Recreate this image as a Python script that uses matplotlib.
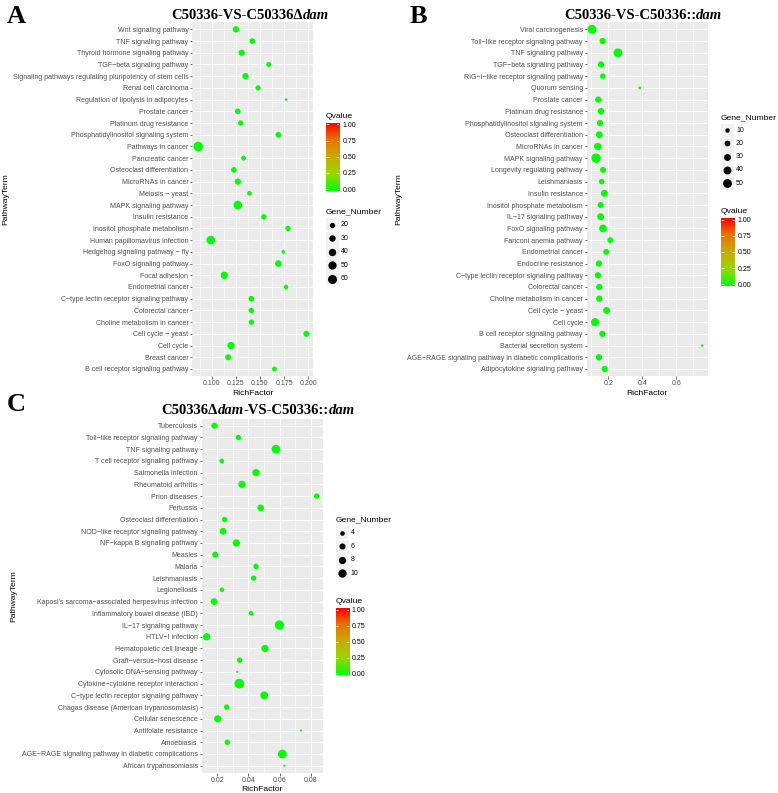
import numpy as np
import matplotlib
matplotlib.use("Agg")
import matplotlib.pyplot as plt
import matplotlib.patches as patches
from matplotlib.colors import LinearSegmentedColormap

W, H = 778, 793

# ---- panel A : C50336-VS-C50336Δdam (top row first) ----
terms_a = ["Wnt signaling pathway", "TNF signaling pathway", "Thyroid hormone signaling pathway",
           "TGF\u2212beta signaling pathway", "Signaling pathways regulating pluripotency of stem cells",
           "Renal cell carcinoma", "Regulation of lipolysis in adipocytes", "Prostate cancer",
           "Platinum drug resistance", "Phosphatidylinositol signaling system", "Pathways in cancer",
           "Pancreatic cancer", "Osteoclast differentiation", "MicroRNAs in cancer", "Meiosis \u2212 yeast",
           "MAPK signaling pathway", "Insulin resistance", "Inositol phosphate metabolism",
           "Human papillomavirus infection", "Hedgehog signaling pathway \u2212 fly", "FoxO signaling pathway",
           "Focal adhesion", "Endometrial cancer", "C\u2212type lectin receptor signaling pathway",
           "Colorectal cancer", "Choline metabolism in cancer", "Cell cycle \u2212 yeast", "Cell cycle",
           "Breast cancer", "B cell receptor signaling pathway"]
rich_a = [0.125, 0.142, 0.131, 0.159, 0.135, 0.148, 0.177, 0.127, 0.130, 0.169, 0.086, 0.133, 0.123,
          0.127, 0.139, 0.127, 0.154, 0.179, 0.099, 0.174, 0.169, 0.113, 0.177, 0.141, 0.141, 0.141,
          0.198, 0.120, 0.117, 0.165]
genes_a = [29, 23, 29, 17, 29, 20, 4, 23, 20, 23, 68, 17, 23, 29, 15, 55, 20, 20, 55, 8, 32, 39, 15,
           23, 20, 20, 26, 39, 26, 17]
qval_a = [0.00, 0.00, 0.00, 0.00, 0.00, 0.00, 0.00, 0.00, 0.00, 0.00, 0.00, 0.00, 0.00, 0.00, 0.00,
          0.00, 0.00, 0.00, 0.00, 0.00, 0.00, 0.00, 0.00, 0.00, 0.00, 0.00, 0.00, 0.00, 0.00, 0.00]
size_breaks_a = [20, 30, 40, 50, 60]
xticks_a = [0.100, 0.125, 0.150, 0.175, 0.200]

# ---- panel B : C50336-VS-C50336::dam ----
terms_b = ["Viral carcinogenesis", "Toll\u2212like receptor signaling pathway", "TNF signaling pathway",
           "TGF\u2212beta signaling pathway", "RIG\u2212I\u2212like receptor signaling pathway", "Quorum sensing",
           "Prostate cancer", "Platinum drug resistance", "Phosphatidylinositol signaling system",
           "Osteoclast differentiation", "MicroRNAs in cancer", "MAPK signaling pathway",
           "Longevity regulating pathway", "Leishmaniasis", "Insulin resistance",
           "Inositol phosphate metabolism", "IL\u221217 signaling pathway", "FoxO signaling pathway",
           "Fanconi anemia pathway", "Endometrial cancer", "Endocrine resistance",
           "C\u2212type lectin receptor signaling pathway", "Colorectal cancer",
           "Choline metabolism in cancer", "Cell cycle \u2212 yeast", "Cell cycle",
           "B cell receptor signaling pathway", "Bacterial secretion system",
           "AGE\u2212RAGE signaling pathway in diabetic complications", "Adipocytokine signaling pathway"]
rich_b = [0.104, 0.167, 0.257, 0.157, 0.167, 0.385, 0.141, 0.157, 0.151, 0.147, 0.138, 0.128, 0.169,
          0.161, 0.177, 0.155, 0.155, 0.169, 0.212, 0.188, 0.145, 0.139, 0.147, 0.147, 0.190, 0.122,
          0.165, 0.753, 0.145, 0.179]
genes_b = [52, 24, 50, 24, 18, 2, 24, 27, 24, 30, 34, 58, 21, 18, 30, 21, 30, 38, 21, 21, 24, 24, 24,
           24, 30, 42, 24, 1, 24, 24]
qval_b = [0.00, 0.00, 0.00, 0.00, 0.00, 0.00, 0.00, 0.00, 0.00, 0.00, 0.00, 0.00, 0.00, 0.00, 0.00,
          0.00, 0.00, 0.00, 0.00, 0.00, 0.00, 0.00, 0.00, 0.00, 0.00, 0.00, 0.00, 0.00, 0.00, 0.00]
size_breaks_b = [10, 20, 30, 40, 50]
xticks_b = [0.2, 0.4, 0.6]

# ---- panel C : C50336Δdam-VS-C50336::dam ----
terms_c = ["Tuberculosis", "Toll\u2212like receptor signaling pathway", "TNF signaling pathway",
           "T cell receptor signaling pathway", "Salmonella infection", "Rheumatoid arthritis",
           "Prion diseases", "Pertussis", "Osteoclast differentiation",
           "NOD\u2212like receptor signaling pathway", "NF\u2212kappa B signaling pathway", "Measles",
           "Malaria", "Leishmaniasis", "Legionellosis",
           "Kaposi's sarcoma\u2212associated herpesvirus infection", "Inflammatory bowel disease (IBD)",
           "IL\u221217 signaling pathway", "HTLV\u2212I infection", "Hematopoietic cell lineage",
           "Graft\u2212versus\u2212host disease", "Cytosolic DNA\u2212sensing pathway",
           "Cytokine\u2212cytokine receptor interaction", "C\u2212type lectin receptor signaling pathway",
           "Chagas disease (American trypanosomiasis)", "Cellular senescence", "Antifolate resistance",
           "Amoebiasis", "AGE\u2212RAGE signaling pathway in diabetic complications",
           "African trypanosomiasis"]
rich_c = [0.0181, 0.0335, 0.0576, 0.0228, 0.0448, 0.0358, 0.0837, 0.0478, 0.0247, 0.0237, 0.0322,
          0.0187, 0.0448, 0.0433, 0.0230, 0.0179, 0.0416, 0.0598, 0.0132, 0.0506, 0.0343, 0.0328,
          0.0341, 0.0501, 0.0260, 0.0203, 0.0737, 0.0264, 0.0617, 0.0630]
genes_c = [6, 5, 11, 4, 8, 8, 5, 7, 5, 7, 8, 6, 5, 5, 4, 7, 4, 12, 8, 8, 5, 2, 13, 9, 5, 8, 2, 5, 11, 2]
qval_c = [0.00, 0.00, 0.00, 0.00, 0.00, 0.00, 0.00, 0.00, 0.00, 0.00, 0.00, 0.00, 0.00, 0.00, 0.00,
          0.00, 0.00, 0.00, 0.00, 0.00, 0.00, 0.00, 0.00, 0.00, 0.00, 0.00, 0.00, 0.00, 0.00, 0.00]
size_breaks_c = [4, 6, 8, 10]
xticks_c = [0.02, 0.04, 0.06, 0.08]

q_breaks = [0.00, 0.25, 0.50, 0.75, 1.00]

SANS = "Liberation Sans"
SERIF = "Liberation Serif"
plt.rcParams["font.family"] = [SANS, "DejaVu Sans"]

# ggplot green -> red gradient (Lab interpolation, approximated)
cmap = LinearSegmentedColormap.from_list(
    "qv", [(0.0, "#00FF00"), (0.25, "#98D700"), (0.5, "#C8AB00"), (0.75, "#E87600"), (1.0, "#FF0000")])


def px_rect(x0, y0, x1, y1):
    return [x0 / W, 1 - y1 / H, (x1 - x0) / W, (y1 - y0) / H]


def draw_panel(fig, box, terms, rich, genes, qval, xlim, xmajor, fmt, size_fn):
    ax = fig.add_axes(px_rect(*box))
    ax.set_facecolor("#EBEBEB")
    n = len(terms)
    ypos = np.arange(n)[::-1]
    ax.scatter(rich, ypos, s=size_fn(np.array(genes, dtype=float)), c=qval, cmap=cmap,
               vmin=0, vmax=1, linewidths=0, zorder=3)
    ax.set_xlim(xlim)
    ax.set_ylim(-0.6, n - 0.4)
    ax.set_yticks(ypos)
    ax.set_yticklabels(terms)
    ax.set_xticks(xmajor)
    ax.set_xticklabels([fmt.format(v) for v in xmajor])
    step = xmajor[1] - xmajor[0]
    minor = np.arange(xmajor[0] - step / 2, xlim[1], step)
    ax.set_xticks(minor[(minor > xlim[0])], minor=True)
    ax.grid(which="major", color="white", lw=0.75)
    ax.grid(which="minor", axis="x", color="white", lw=0.4)
    ax.set_axisbelow(True)
    for sp in ax.spines.values():
        sp.set_visible(False)
    ax.tick_params(which="major", length=1.8, width=0.5, color="#333333", labelsize=5,
                   labelcolor="#4D4D4D", pad=1)
    ax.tick_params(which="minor", length=0)
    ax.set_xlabel("RichFactor", fontsize=6.1, labelpad=2)
    return ax


def colorbar_legend(fig, over, x, y_title, y0, y1, lab_x):
    over.text(x, y_title, "Qvalue", fontsize=6.1, ha="left", va="center")
    cax = fig.add_axes(px_rect(x, y0, x + 13.5, y1))
    lo, hi = -0.026, 1.026
    grad = np.linspace(0, 1, 256).reshape(-1, 1)
    cax.imshow(grad, aspect="auto", origin="lower", extent=[0, 1, lo, hi], cmap=cmap)
    cax.set_xlim(0, 1)
    cax.set_ylim(lo, hi)
    cax.hlines(q_breaks, 0, 0.2, color="white", lw=0.5)
    cax.hlines(q_breaks, 0.8, 1, color="white", lw=0.5)
    cax.set_xticks([])
    cax.yaxis.tick_right()
    cax.set_yticks(q_breaks)
    cax.set_yticklabels(["{:.2f}".format(v) for v in q_breaks])
    cax.tick_params(length=0, labelsize=5, pad=(lab_x - x - 13.5) * 0.72)
    for sp in cax.spines.values():
        sp.set_visible(False)


def size_legend(over, x, y_title, y_first, step, breaks, size_fn):
    over.text(x, y_title, "Gene_Number", fontsize=6.1, ha="left", va="center")
    dx = x + 6.5
    for i, v in enumerate(breaks):
        yy = y_first + i * step
        over.add_patch(patches.Rectangle((dx - 6.5, yy - 6.5), 13, 13, color="#F2F2F2", lw=0))
        over.scatter([dx], [yy], s=size_fn(float(v)), color="black", linewidths=0, zorder=3)
        over.text(dx + 8.5, yy, str(v), fontsize=5, ha="left", va="center")


def mixed_title(fig, xc, yb, parts, size=10.5):
    renderer = fig.canvas.get_renderer()
    texts = []
    for s, style in parts:
        t = fig.text(0, 1 - yb / H, s, fontsize=size, fontweight="bold", fontstyle=style,
                     family=SERIF, va="baseline", ha="left")
        texts.append(t)
    widths = [t.get_window_extent(renderer).width for t in texts]
    x = xc - sum(widths) / 2
    for t, w in zip(texts, widths):
        t.set_x(x / W)
        x += w


def main():
    fig = plt.figure(figsize=(W / 100, H / 100), dpi=100)
    over = fig.add_axes([0, 0, 1, 1])
    over.set_xlim(0, W)
    over.set_ylim(H, 0)
    over.axis("off")

    size_a = lambda g: 0.683 * g + 1.0
    size_b = lambda g: 0.75 * g + 2.5
    size_c = lambda g: np.maximum(4.2 * g - 6.0, 2.0)

    draw_panel(fig, (192.3, 22.3, 312.7, 376), terms_a, rich_a, genes_a, qval_a,
               (0.0799, 0.2046), xticks_a, "{:.3f}", size_a)
    draw_panel(fig, (586.7, 22.3, 707.7, 376), terms_b, rich_b, genes_b, qval_b,
               (0.073, 0.785), xticks_b, "{:.1f}", size_b)
    draw_panel(fig, (201.7, 418.7, 322.7, 772.7), terms_c, rich_c, genes_c, qval_c,
               (0.0100, 0.0876), xticks_c, "{:.2f}", size_c)

    # legends
    colorbar_legend(fig, over, 326, 116.7, 122.7, 190.7, 342.7)
    size_legend(over, 326, 212, 224.7, 13.5, size_breaks_a, size_a)
    size_legend(over, 721, 117.3, 130, 13.33, size_breaks_b, size_b)
    colorbar_legend(fig, over, 721, 211.7, 218.3, 285.7, 737.7)
    size_legend(over, 335.7, 520, 532.7, 13.55, size_breaks_c, size_c)
    colorbar_legend(fig, over, 335.7, 601.7, 608.3, 675, 351.7)

    # y axis titles
    for x, y in [(6, 199), (399, 199), (14, 595.7)]:
        fig.text(x / W, 1 - y / H, "PathwayTerm", rotation=90, ha="center", va="center", fontsize=6.1)

    # panel letters
    for x, y, s in [(7, 23.3, "A"), (410, 23.3, "B"), (7, 410.7, "C")]:
        fig.text(x / W, 1 - y / H, s, fontsize=19, fontweight="bold", family=SERIF,
                 ha="left", va="baseline")

    mixed_title(fig, 250, 18.7, [("C50336-VS-C50336\u0394", "normal"), ("dam", "italic")])
    mixed_title(fig, 643, 19, [("C50336-VS-C50336::", "normal"), ("dam", "italic")])
    mixed_title(fig, 258, 414.3, [("C50336\u0394", "normal"), ("dam", "italic"),
                                  ("-VS-C50336::", "normal"), ("dam", "italic")])

    fig.savefig("out.png", dpi=100)


if __name__ == "__main__":
    main()
